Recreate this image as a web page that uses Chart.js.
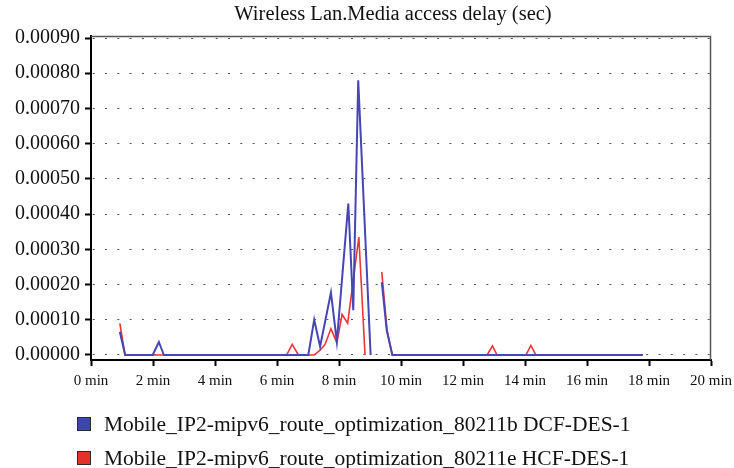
<!DOCTYPE html>
<html>
<head>
<meta charset="utf-8">
<script src="https://cdn.jsdelivr.net/npm/chart.js@4.4.0/dist/chart.umd.min.js"></script>
<style>
  html, body { margin: 0; padding: 0; background: #ffffff; }
  #wrap { width: 734px; height: 468px; position: relative; }
</style>
</head>
<body>
<div id="wrap"><canvas id="c" width="734" height="468"></canvas></div>
<script>
// ---- data ----
const chartTitle = "Wireless Lan.Media access delay (sec)";
const seriesNames = [
  "Mobile_IP2-mipv6_route_optimization_80211b DCF-DES-1",
  "Mobile_IP2-mipv6_route_optimization_80211e HCF-DES-1"
];
// time in minutes, delay in seconds (null = gap in the trace)
const dcfTimes  = [0.93, 1.1, 1.99, 2.19, 2.35, 7.01, 7.2, 7.39, 7.74, 7.93, 8.3, 8.46, 8.62, 9.02, 9.2, 9.38, 9.54, 9.72, 17.8];
const dcfValues = [0.000066, 0, 0, 0.000037, 0, 0, 0.0001, 0.000024, 0.000177, 0.000038, 0.00043, 0.000127, 0.00078, 0, null, 0.000207, 0.00007, 0, 0];
const hcfTimes  = [0.93, 1.1, 6.31, 6.49, 6.69, 7.2, 7.39, 7.55, 7.74, 7.93, 8.1, 8.28, 8.64, 8.84, 9.1, 9.38, 9.55, 9.72, 12.78, 12.95, 13.1, 14.03, 14.19, 14.35, 17.8];
const hcfValues = [0.00009, 0, 0, 0.00003, 0, 0, 0.000014, 0.00003, 0.000075, 0.000035, 0.000115, 0.00009, 0.000335, 0, null, 0.000236, 0.00007, 0, 0, 0.000026, 0, 0, 0.000027, 0, 0];
const yTickValues = [0, 0.0001, 0.0002, 0.0003, 0.0004, 0.0005, 0.0006, 0.0007, 0.0008, 0.0009];
const yTickLabels = ["0.00000", "0.00010", "0.00020", "0.00030", "0.00040", "0.00050", "0.00060", "0.00070", "0.00080", "0.00090"];
const xTickValues = [0, 2, 4, 6, 8, 10, 12, 14, 16, 18, 20];
const xTickLabels = ["0 min", "2 min", "4 min", "6 min", "8 min", "10 min", "12 min", "14 min", "16 min", "18 min", "20 min"];

const colors = ["#4646b4", "#f03434"];
const legendFill = ["#3d46ad", "#e2322a"];
const SERIF = "'Liberation Serif', 'DejaVu Serif', serif";

function toPoints(xs, ys) { return xs.map((x, i) => ({ x: x, y: ys[i] })); }

const frameAndText = {
  id: 'frameAndText',
  afterDraw(chart) {
    const ctx = chart.ctx, a = chart.chartArea;
    ctx.save();
    // top & right frame lines
    ctx.strokeStyle = '#555555';
    ctx.lineWidth = 1.5;
    ctx.beginPath();
    ctx.moveTo(a.left, a.top + 0.5);
    ctx.lineTo(a.right - 0.5, a.top + 0.5);
    ctx.lineTo(a.right - 0.5, a.bottom);
    ctx.stroke();
    // title
    ctx.fillStyle = '#111111';
    ctx.font = '20.5px ' + SERIF;
    ctx.textAlign = 'center';
    ctx.textBaseline = 'middle';
    ctx.fillText(chartTitle, 393, 15);
    // legend
    ctx.textAlign = 'left';
    ctx.font = '21.5px ' + SERIF;
    const rows = [424, 458];
    seriesNames.forEach((name, i) => {
      const cy = rows[i];
      ctx.fillStyle = legendFill[i];
      ctx.fillRect(77, cy - 7, 14, 14);
      ctx.strokeStyle = '#2a2a2a';
      ctx.lineWidth = 1;
      ctx.strokeRect(77.5, cy - 6.5, 13, 13);
      ctx.fillStyle = '#111111';
      ctx.fillText(name, 104, cy + 1);
    });
    ctx.restore();
  }
};

new Chart(document.getElementById('c'), {
  type: 'line',
  data: {
    datasets: [
      { label: seriesNames[0], data: toPoints(dcfTimes, dcfValues), borderColor: colors[0], borderWidth: 2, pointRadius: 0, tension: 0, spanGaps: false, fill: false },
      { label: seriesNames[1], data: toPoints(hcfTimes, hcfValues), borderColor: colors[1], borderWidth: 1.6, pointRadius: 0, tension: 0, spanGaps: false, fill: false }
    ]
  },
  options: {
    responsive: false,
    animation: false,
    devicePixelRatio: 1,
    layout: { padding: { left: 0, top: 36, right: 23, bottom: 0 } },
    plugins: { legend: { display: false }, title: { display: false }, tooltip: { enabled: false } },
    scales: {
      x: {
        type: 'linear', min: 0, max: 20,
        afterFit(s) { s.height = 108; s.paddingLeft = 0; s.paddingRight = 0; },
        afterBuildTicks(s) { s.ticks = xTickValues.map(v => ({ value: v })); },
        grid: { drawOnChartArea: false, drawTicks: true, tickLength: 6, tickColor: '#000', tickWidth: 2 },
        border: { display: true, color: '#000', width: 2 },
        ticks: {
          padding: 6, color: '#111', font: { family: SERIF, size: 15 }, maxRotation: 0,
          callback(v) { const i = xTickValues.indexOf(v); return i >= 0 ? xTickLabels[i] : ''; }
        }
      },
      y: {
        type: 'linear', min: -0.0000142, max: 0.0009057,
        afterFit(s) { s.width = 91; s.paddingTop = 0; s.paddingBottom = 0; },
        afterBuildTicks(s) { s.ticks = yTickValues.map(v => ({ value: v })); },
        grid: { drawOnChartArea: true, color: '#555555', lineWidth: 1, drawTicks: true, tickLength: 6, tickColor: '#000', tickWidth: 2, tickBorderDash: [] },
        border: { display: true, color: '#000', width: 2, dash: [2, 10.3], dashOffset: -13 },
        ticks: {
          padding: 5, color: '#111', font: { family: SERIF, size: 20 },
          callback(v) { const i = yTickValues.findIndex(t => Math.abs(t - v) < 1e-9); return i >= 0 ? yTickLabels[i] : ''; }
        }
      }
    }
  },
  plugins: [frameAndText]
});
</script>
</body>
</html>
